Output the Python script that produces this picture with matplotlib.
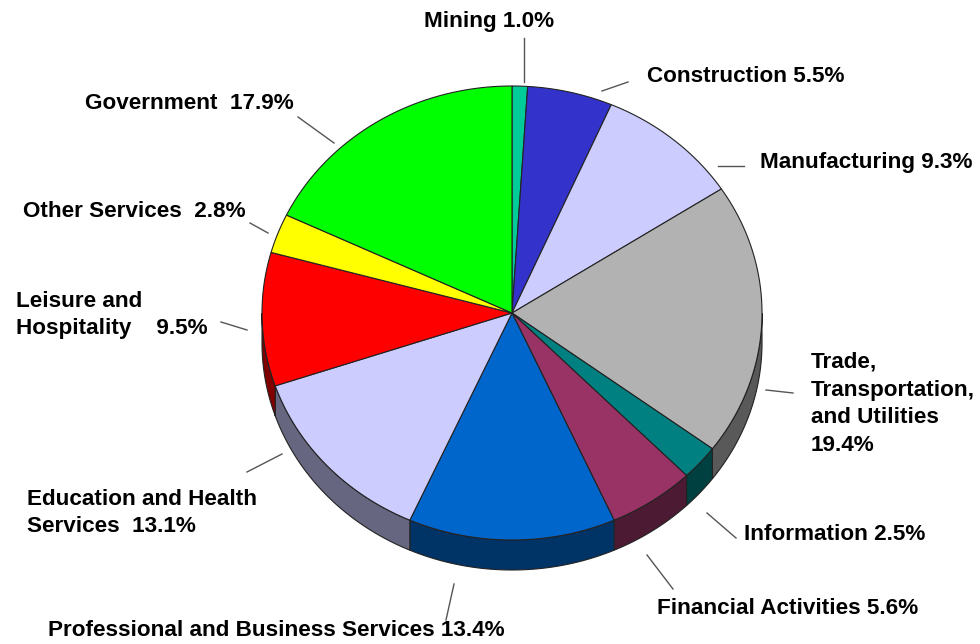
import numpy as np
import matplotlib
matplotlib.use("Agg")
import matplotlib.pyplot as plt
from matplotlib.patches import Polygon
from matplotlib.colors import to_rgb

# data (clockwise from 12 o'clock)
sectors = ["Mining", "Construction", "Manufacturing",
           "Trade, Transportation, and Utilities", "Information",
           "Financial Activities", "Professional and Business Services",
           "Education and Health Services", "Leisure and Hospitality",
           "Other Services", "Government"]
shares = [1.0, 5.5, 9.3, 19.4, 2.5, 5.6, 13.4, 13.1, 9.5, 2.8, 17.9]
labels = ["Mining 1.0%", "Construction 5.5%", "Manufacturing 9.3%",
          "Trade,\nTransportation,\nand Utilities\n19.4%",
          "Information 2.5%", "Financial Activities 5.6%",
          "Professional and Business Services 13.4%",
          "Education and Health\nServices  13.1%",
          "Leisure and\nHospitality    9.5%",
          "Other Services  2.8%", "Government  17.9%"]
colors = ["#00CC99", "#3333CC", "#CCCCFF", "#B2B2B2", "#008080", "#993366",
          "#0066CC", "#CCCCFF", "#FF0000", "#FFFF00", "#00FF00"]

# layout (pixels)
cx, cy, rx, ry, depth = 512, 313, 250, 227, 30
label_xy = [(424, 21), (647, 76), (760, 162), (811, 404), (744, 535),
            (657, 608), (48, 631), (27, 513), (16, 315), (23, 211), (85, 103)]
leaders = [((524, 38), (524, 82)), ((602, 91), (628, 82)),
           ((718, 166), (744, 166)), ((766, 390), (793, 393)),
           ((707, 513), (736, 538)), ((647, 555), (673, 589)),
           ((454, 584), (446, 620)), ((247, 472), (282, 454)),
           ((221, 322), (247, 330)), ((250, 223), (268, 233)),
           ((298, 117), (334, 143))]

plt.rcParams["font.family"] = ["Liberation Sans", "DejaVu Sans"]

fig = plt.figure(figsize=(9.8, 6.44), dpi=100)
ax = fig.add_axes([0, 0, 1, 1])
ax.set_xlim(0, 980)
ax.set_ylim(644, 0)
ax.axis("off")


def rim(theta_deg, dy=0):
    t = np.radians(90 - np.asarray(theta_deg))
    return np.column_stack([cx + rx * np.cos(t), cy - ry * np.sin(t) + dy])


bounds = np.concatenate([[0], np.cumsum(shares)]) / sum(shares) * 360
edge = "#222222"

# side walls (front half: 90..270 deg clockwise from top)
for i, c in enumerate(colors):
    a0, a1 = max(bounds[i], 90), min(bounds[i + 1], 270)
    if a1 <= a0:
        continue
    th = np.linspace(a0, a1, 80)
    top = rim(th)
    bot = rim(th[::-1], depth)
    dark = tuple(v * 0.5 for v in to_rgb(c))
    ax.add_patch(Polygon(np.vstack([top, bot]), closed=True, fc=dark,
                         ec=edge, lw=0.8, zorder=1))

# top faces
for i, c in enumerate(colors):
    th = np.linspace(bounds[i], bounds[i + 1], 120)
    pts = np.vstack([[cx, cy], rim(th)])
    ax.add_patch(Polygon(pts, closed=True, fc=c, ec=edge, lw=0.8, zorder=2))

for (xy, lab, ld) in zip(label_xy, labels, leaders):
    ax.text(xy[0], xy[1], lab, ha="left", va="center", fontsize=16.2,
            fontweight="bold", color="black", linespacing=1.42)
    ax.plot([ld[0][0], ld[1][0]], [ld[0][1], ld[1][1]], color="#555555",
            lw=1.0, zorder=3)

fig.savefig("out.png", dpi=100)
